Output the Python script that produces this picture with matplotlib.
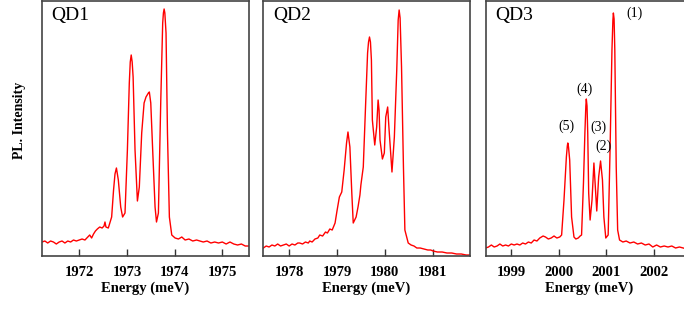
import numpy as np
import matplotlib.pyplot as plt

# QD1 spectrum (energy in meV, intensity in arb. units)
e1 = [1971.22, 1971.28, 1971.34, 1971.40, 1971.46, 1971.52, 1971.58, 1971.64, 1971.70,
      1971.76, 1971.82, 1971.88, 1971.94, 1972.00, 1972.06, 1972.12, 1972.18, 1972.22,
      1972.26, 1972.30, 1972.34, 1972.38, 1972.43, 1972.48, 1972.52, 1972.54, 1972.56,
      1972.61, 1972.68, 1972.72, 1972.75, 1972.78, 1972.82, 1972.87, 1972.91, 1972.96, 1973.01,
      1973.05, 1973.07, 1973.09, 1973.11, 1973.13, 1973.17, 1973.22, 1973.26, 1973.31, 1973.36,
      1973.40, 1973.45, 1973.47, 1973.50, 1973.54, 1973.59, 1973.62, 1973.66, 1973.71, 1973.75,
      1973.765, 1973.78, 1973.795, 1973.82, 1973.85, 1973.89, 1973.94, 1974.01, 1974.08,
      1974.15, 1974.22, 1974.30, 1974.38, 1974.46, 1974.53, 1974.60, 1974.68, 1974.76,
      1974.84, 1974.92, 1975.00, 1975.08, 1975.16, 1975.24, 1975.32, 1975.40, 1975.48, 1975.55]
i1 = [14, 15, 13, 15, 14, 12, 14, 15, 13,
      15, 14, 16, 15, 16, 17, 16, 19, 21,
      18, 22, 25, 27, 29, 28, 30, 34, 29,
      28, 39, 66, 82, 88, 76, 49, 39, 43, 106,
      173, 194, 201, 194, 179, 106, 55, 69, 123, 153,
      159, 163, 164, 153, 106, 49, 34, 43, 156, 233,
      243, 247, 243, 223, 123, 39, 21, 18, 17,
      19, 16, 17, 15, 16, 15, 14, 15, 13,
      14, 13, 14, 12, 14, 12, 11, 12, 10, 10]

# QD2 spectrum
e2 = [1977.46, 1977.52, 1977.58, 1977.64, 1977.70, 1977.76, 1977.82, 1977.88, 1977.94,
      1978.00, 1978.06, 1978.12, 1978.18, 1978.22, 1978.28, 1978.34, 1978.40, 1978.43,
      1978.48, 1978.54, 1978.60, 1978.64, 1978.70, 1978.76, 1978.80, 1978.85, 1978.90,
      1978.96, 1979.00, 1979.05, 1979.10, 1979.15, 1979.20, 1979.23, 1979.27, 1979.31,
      1979.34, 1979.40, 1979.44, 1979.48, 1979.50, 1979.55, 1979.60, 1979.64, 1979.66,
      1979.68, 1979.70, 1979.72, 1979.74, 1979.79, 1979.83, 1979.86, 1979.88, 1979.90,
      1979.95, 1979.99, 1980.02, 1980.06, 1980.09, 1980.15, 1980.20, 1980.25, 1980.28,
      1980.30, 1980.32, 1980.35, 1980.39, 1980.42, 1980.49, 1980.55, 1980.61, 1980.67,
      1980.74, 1980.82, 1980.90, 1980.96, 1981.01, 1981.10, 1981.20, 1981.30, 1981.40,
      1981.50, 1981.60, 1981.70, 1981.78]
i2 = [8, 10, 9, 11, 10, 12, 10, 11, 12,
      10, 12, 11, 13, 13, 12, 14, 13, 15,
      14, 17, 18, 21, 20, 24, 23, 27, 26,
      33, 45, 59, 64, 86, 113, 124, 109, 63,
      33, 39, 49, 61, 71, 89, 153, 203, 214,
      219, 214, 196, 136, 111, 129, 156, 146, 116,
      97, 103, 139, 149, 126, 84, 119, 186, 236,
      246, 238, 189, 89, 26, 13, 11, 10, 8,
      8, 7, 6, 6, 5, 4, 4, 3, 3,
      2, 2, 1, 1]

# QD3 spectrum
e3 = [1998.46, 1998.52, 1998.58, 1998.64, 1998.70, 1998.76, 1998.82, 1998.88, 1998.94,
      1999.00, 1999.06, 1999.12, 1999.18, 1999.24, 1999.30, 1999.36, 1999.42, 1999.48,
      1999.54, 1999.60, 1999.67, 1999.72, 1999.78, 1999.84, 1999.90, 1999.96, 2000.02,
      2000.06, 2000.11, 2000.16, 2000.18, 2000.19, 2000.205, 2000.23, 2000.27, 2000.32,
      2000.36, 2000.41, 2000.45, 2000.48, 2000.52, 2000.55, 2000.57, 2000.58, 2000.595,
      2000.61, 2000.63, 2000.66, 2000.70, 2000.74, 2000.77, 2000.80, 2000.84, 2000.88,
      2000.92, 2000.95, 2000.99, 2001.04, 2001.08, 2001.12, 2001.14, 2001.15, 2001.165,
      2001.18, 2001.21, 2001.24, 2001.28, 2001.35, 2001.42, 2001.50, 2001.58, 2001.66,
      2001.74, 2001.82, 2001.90, 2001.98, 2002.06, 2002.14, 2002.22, 2002.30, 2002.38,
      2002.46, 2002.54, 2002.62, 2002.70, 2002.81]
i3 = [8, 9, 11, 9, 10, 12, 10, 11, 10,
      12, 11, 12, 11, 13, 12, 14, 13, 16,
      15, 18, 20, 19, 17, 18, 20, 18, 19,
      21, 56, 99, 110, 113, 109, 96, 39, 19,
      17, 18, 20, 21, 73, 123, 150, 157, 150,
      123, 63, 36, 56, 93, 69, 45, 79, 95,
      76, 39, 18, 21, 106, 206, 236, 243, 237,
      206, 89, 26, 16, 14, 15, 13, 14, 12,
      13, 11, 12, 9, 11, 9, 10, 9, 10,
      8, 9, 8, 7, 8]

panels = [(e1, i1, 'QD1', (1971.22, 1975.55), [1972, 1973, 1974, 1975]),
          (e2, i2, 'QD2', (1977.46, 1981.78), [1978, 1979, 1980, 1981]),
          (e3, i3, 'QD3', (1998.46, 2002.81), [1999, 2000, 2001, 2002])]

# peak labels for QD3
lab_text = ['(1)', '(2)', '(3)', '(4)', '(5)']
lab_e = [2001.59, 2000.95, 2000.83, 2000.55, 2000.16]
lab_i = [243, 110, 129, 167, 130]

serif = 'Liberation Serif'
fig = plt.figure(figsize=(6.84, 3.09), dpi=100)
lefts = [0.0614, 0.385, 0.710]

axes = []
for (e, inten, name, xl, ticks), l in zip(panels, lefts):
    ax = fig.add_axes([l, 0.1715, 0.302, 0.8253])
    ax.plot(e, inten, color='red', lw=1.0)
    ax.set_xlim(*xl)
    ax.set_ylim(0, 255)
    ax.set_yticks([])
    ax.set_xticks(ticks)
    ax.set_xticklabels([str(t) for t in ticks], family=serif, fontweight='bold', fontsize=10.5)
    ax.tick_params(axis='x', direction='in', length=5, width=1, color='#333333', pad=7)
    for s in ax.spines.values():
        s.set_color('#444444')
        s.set_linewidth(1.2)
    ax.set_xlabel('Energy (meV)', family=serif, fontweight='bold', fontsize=10.5, labelpad=2)
    ax.text(0.047, 0.975, name, transform=ax.transAxes, family=serif, fontsize=14,
            va='top', ha='left')
    axes.append(ax)

for t, x, y in zip(lab_text, lab_e, lab_i):
    axes[2].text(x, y, t, family=serif, fontsize=10, ha='center', va='center')

fig.text(0.028, 0.61, 'PL. Intensity', rotation=90, family=serif, fontweight='bold',
         fontsize=10, ha='center', va='center')

fig.savefig('out.png', dpi=100)
